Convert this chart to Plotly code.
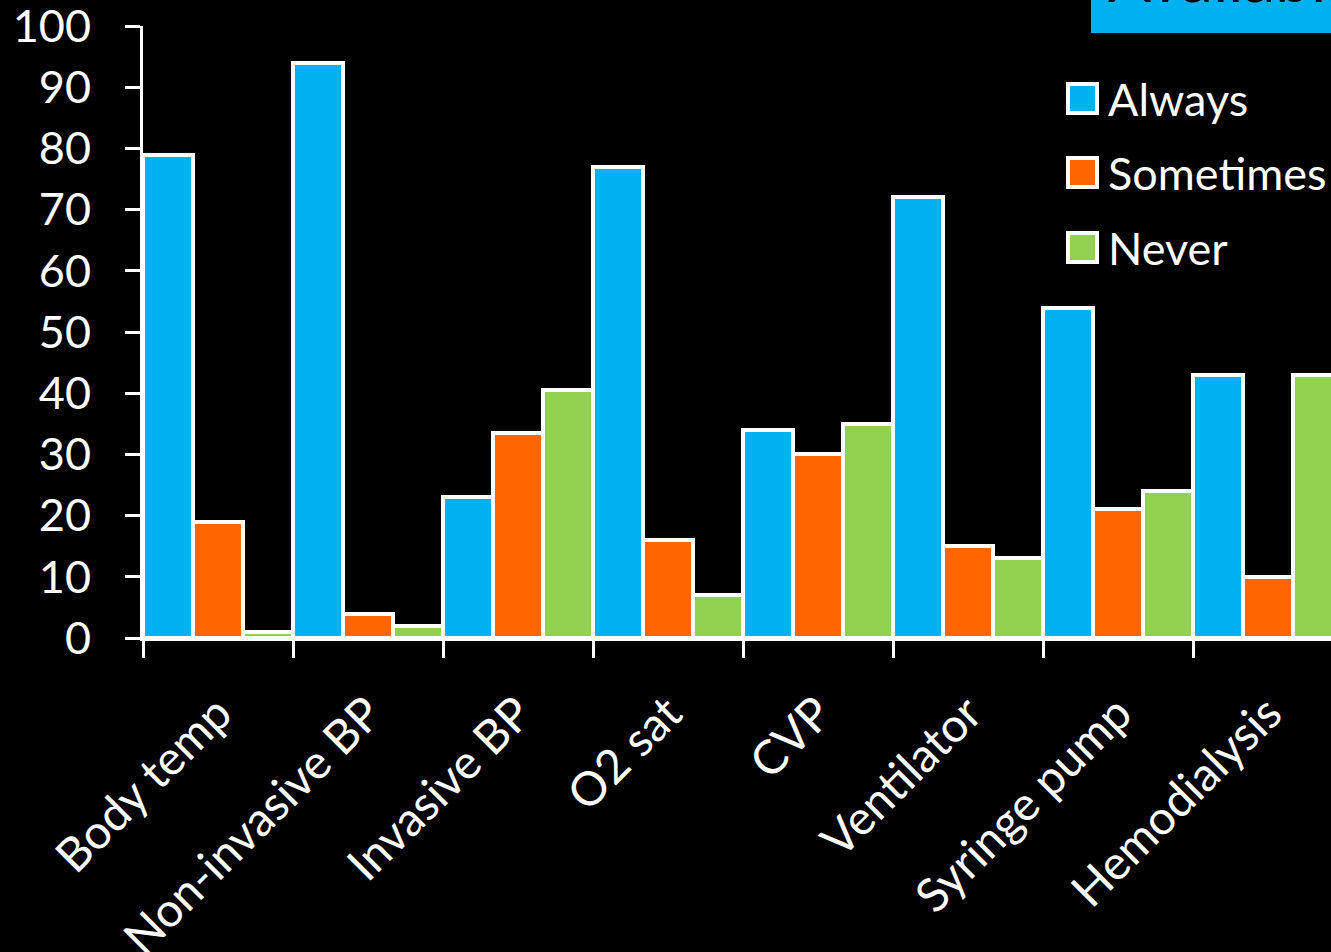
import plotly.graph_objects as go

categories = ["Body temp", "Non-invasive BP", "Invasive BP", "O2 sat", "CVP",
              "Ventilator", "Syringe pump", "Hemodialysis"]
always = [79, 94, 23, 77, 34, 72, 54, 43]
sometimes = [19, 4, 33.5, 16, 30, 15, 21, 10]
never = [1, 2, 40.5, 7, 35, 13, 24, 43]
series_names = ["Always", "Sometimes", "Never"]
colors = ["#00B0F0", "#FF6600", "#92D050"]
y_ticks = [0, 10, 20, 30, 40, 50, 60, 70, 80, 90, 100]

W, H = 1331, 952
L, T, B = 143, 26, 314
PW = W - L
PH = H - T - B
FONT = "Lato"


def px(x):
    return (x - L) / PW


def py(y):
    return (H - B - y) / PH


fig = go.Figure()
for name, vals, col in zip(series_names, [always, sometimes, never], colors):
    fig.add_trace(go.Bar(x=categories, y=vals, name=name,
                         marker=dict(color=col, line=dict(color="white", width=4)),
                         showlegend=False))

# right edge of the plot cuts into last category
cut = 7.5 - 12 / 150

fig.update_layout(
    width=W, height=H,
    margin=dict(l=L, r=0, t=T, b=B, pad=0, autoexpand=False),
    paper_bgcolor="black", plot_bgcolor="black",
    barmode="group", bargap=0, bargroupgap=0,
    font=dict(family=FONT, color="white"),
    xaxis=dict(range=[-0.5, cut], showgrid=False, zeroline=False, automargin=False,
               showline=True, linecolor="white", linewidth=3,
               ticks="outside", tickson="boundaries", ticklen=17, tickwidth=3,
               tickcolor="white", tickangle=-45, ticklabelstandoff=26,
               ticklabeloverflow="allow",
               tickfont=dict(family=FONT, size=47, color="white")),
    yaxis=dict(range=[0, 100], tickvals=y_ticks, showgrid=False, zeroline=False,
               automargin=False, ticklabeloverflow="allow",
               showline=True, linecolor="white", linewidth=3,
               ticks="outside", ticklen=15, tickwidth=3, tickcolor="white",
               ticklabelstandoff=25,
               tickfont=dict(family=FONT, size=45, color="white")),
)

# Title box (cut at top of page)
fig.add_shape(type="rect", xref="paper", yref="paper",
              x0=px(1091), x1=px(1340), y0=py(33), y1=py(-20),
              fillcolor="#00B0F0", line=dict(width=0), layer="above")
fig.add_annotation(text="Availability", xref="paper", yref="paper",
                   x=px(1106), y=py(18), xanchor="left", yanchor="bottom",
                   showarrow=False, font=dict(family=FONT, size=64, color="black"))

# Legend
leg_tops = [83, 157, 232]
for name, col, top in zip(series_names, colors, leg_tops):
    fig.add_shape(type="rect", xref="paper", yref="paper",
                  x0=px(1068), x1=px(1097), y0=py(top + 30), y1=py(top + 1),
                  fillcolor=col, line=dict(color="white", width=4), layer="above")
    fig.add_annotation(text=name, xref="paper", yref="paper",
                       x=px(1106), y=py(top + 15.5), xanchor="left", yanchor="middle",
                       showarrow=False, font=dict(family=FONT, size=45, color="white"))

fig.write_html("out.html")
